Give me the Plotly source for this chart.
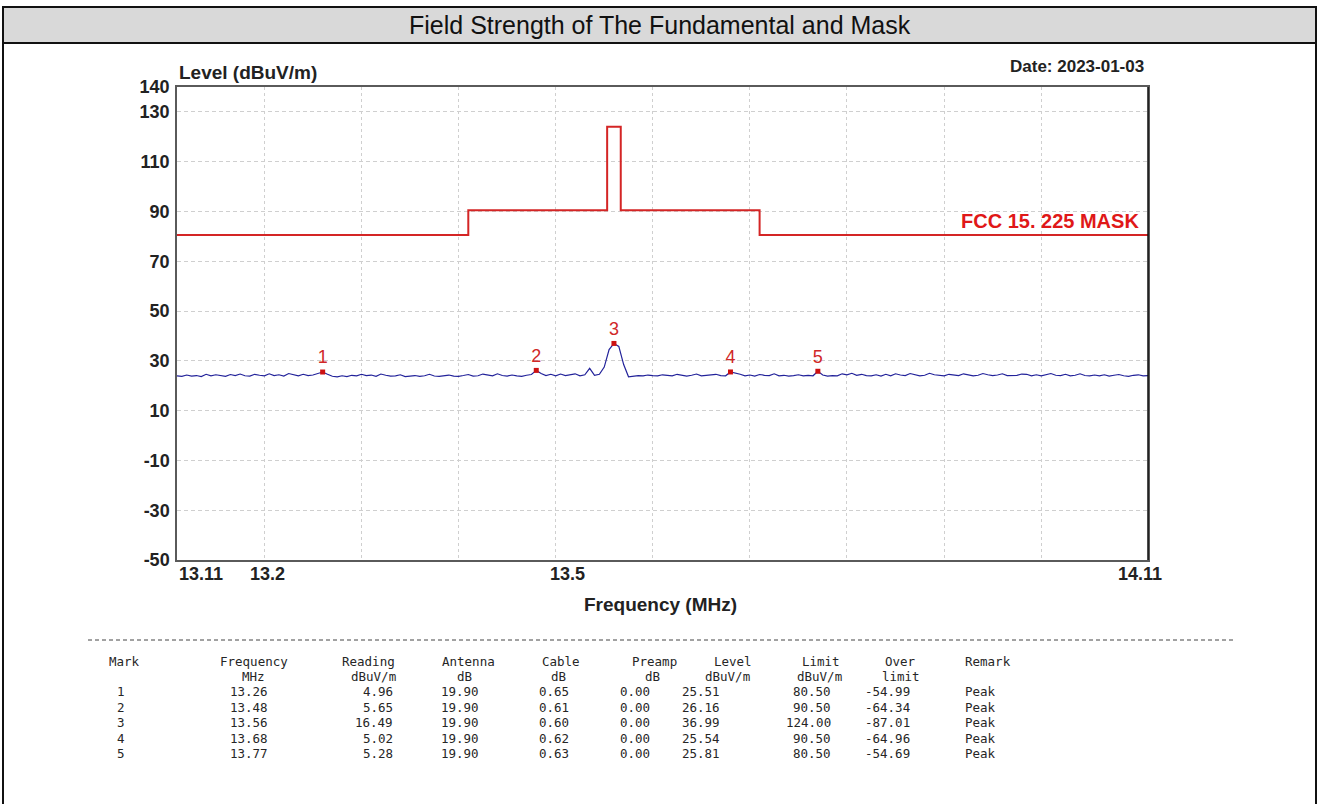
import plotly.graph_objects as go

# ---------------- data ----------------
sweep_start = 13.11
sweep_step = 0.005
trace_level = [
    24.0, 23.8, 24.3, 23.9, 24.1, 23.7, 24.6, 24.0, 24.4, 24.2,
    23.8, 24.5, 24.1, 24.7, 24.0, 23.9, 24.6, 24.2, 24.0, 24.8,
    24.1, 24.4, 23.9, 24.9, 24.3, 24.0, 24.6, 24.1, 24.3, 24.8,
    25.51, 24.6, 23.8, 23.6, 24.0, 23.7, 24.2, 24.0, 24.6, 24.1,
    24.3, 23.8, 24.7, 24.2, 23.9, 24.0, 24.4, 23.7, 23.9, 24.1,
    23.8, 24.0, 24.6, 23.9, 23.8, 24.0, 24.3, 23.9, 23.8, 24.1,
    24.5, 23.9, 24.0, 24.7, 24.2, 24.0, 24.8, 24.1, 23.9, 24.3,
    24.0, 23.8, 24.2, 24.5, 26.16, 24.9, 24.1, 24.6, 24.0, 24.7,
    24.1, 24.3, 24.8, 24.0, 24.4, 27.0, 24.2, 24.6, 27.5, 34.5,
    36.99, 35.8, 28.5, 23.6, 23.9, 24.1, 24.0, 24.3, 24.1, 24.0,
    24.4, 24.2, 24.0, 24.6, 24.1, 23.9, 24.2, 24.7, 24.0, 24.1,
    24.3, 24.6, 24.1, 24.0, 25.54, 25.2, 24.6, 24.0, 24.3, 23.9,
    24.5, 24.2, 24.1, 24.8, 24.0, 24.2, 23.9, 24.1, 24.4, 24.0,
    24.2, 24.0, 25.81, 24.3, 23.9, 24.1, 24.0, 24.8, 24.4, 25.0,
    24.2, 24.6, 24.1, 24.0, 24.4, 23.9, 24.6, 24.0, 24.8, 24.3,
    24.1, 24.9, 24.3, 24.0, 24.2, 25.0, 24.4, 24.1, 24.0, 24.6,
    24.2, 24.1, 24.8, 24.5, 24.0, 24.2, 24.9, 24.4, 24.1, 24.3,
    24.8, 24.1, 24.0, 24.2, 24.7, 24.6, 24.0, 24.4, 24.0, 24.3,
    24.9, 24.2, 24.1, 24.6, 24.0, 24.2, 24.8, 24.1, 24.0, 24.3,
    24.0, 24.4, 23.9, 24.2, 24.5, 24.0, 23.8, 24.2, 24.4, 24.0,
    24.1,
]
trace_freq = [round(sweep_start + sweep_step * i, 3) for i in range(len(trace_level))]

mask_freq = [13.11, 13.41, 13.41, 13.553, 13.553, 13.567, 13.567, 13.71, 13.71, 14.11]
mask_level = [80.5, 80.5, 90.5, 90.5, 124.0, 124.0, 90.5, 90.5, 80.5, 80.5]

mark_no = ["1", "2", "3", "4", "5"]
mark_freq = [13.26, 13.48, 13.56, 13.68, 13.77]
mark_reading = [4.96, 5.65, 16.49, 5.02, 5.28]
mark_antenna = [19.90, 19.90, 19.90, 19.90, 19.90]
mark_cable = [0.65, 0.61, 0.60, 0.62, 0.63]
mark_preamp = [0.00, 0.00, 0.00, 0.00, 0.00]
mark_level = [25.51, 26.16, 36.99, 25.54, 25.81]
mark_limit = [80.50, 90.50, 124.00, 90.50, 80.50]
mark_over = [-54.99, -64.34, -87.01, -64.96, -54.69]
mark_remark = ["Peak", "Peak", "Peak", "Peak", "Peak"]

y_ticks = [140, 130, 110, 90, 70, 50, 30, 10, -10, -30, -50]
x_tick_labels = [13.11, 13.2, 13.5, 14.11]
x_grid = [13.2, 13.3, 13.4, 13.5, 13.6, 13.7, 13.8, 13.9, 14.0]

# ---------------- layout geometry (pixels) ----------------
FW, FH = 1318, 804
L, R, T, B = 177, 1148, 87, 560
W, H = R - L, B - T


def px(x):
    return (x - L) / W


def py(y):
    return (B - y) / H


FONT = "Arial, Liberation Sans, sans-serif"
MONO = "Consolas, DejaVu Sans Mono, monospace"

fig = go.Figure()

fig.add_trace(go.Scatter(
    x=mask_freq, y=mask_level, mode="lines",
    line=dict(color="#d42525", width=2), hoverinfo="skip", showlegend=False))

fig.add_trace(go.Scatter(
    x=trace_freq, y=trace_level, mode="lines",
    line=dict(color="#22229a", width=1.2), showlegend=False))

fig.add_trace(go.Scatter(
    x=mark_freq, y=mark_level, mode="markers+text", text=mark_no,
    textposition="top center",
    textfont=dict(family=FONT, size=18, color="#d02828"),
    marker=dict(symbol="square", size=5, color="#cc1111"),
    showlegend=False))

annotations = []

# x tick labels
x_anchor = {13.11: ("left", 0), 13.2: ("center", 3), 13.5: ("center", 12), 14.11: ("center", -8)}
for v in x_tick_labels:
    a, s = x_anchor[v]
    annotations.append(dict(x=v, y=0, xref="x", yref="paper", text="<b>%s</b>" % v,
                            showarrow=False, xanchor=a, yanchor="top", xshift=s, yshift=-2,
                            font=dict(family=FONT, size=18, color="#222")))

annotations += [
    dict(x=px(660), y=py(25), xref="paper", yref="paper", text="Field Strength of The Fundamental and Mask",
         showarrow=False, xanchor="center", yanchor="middle",
         font=dict(family=FONT, size=25, color="#111")),
    dict(x=px(177), y=py(72), xref="paper", yref="paper", text="<b>Level (dBuV/m)</b>",
         showarrow=False, xanchor="left", yanchor="middle",
         font=dict(family=FONT, size=19, color="#222")),
    dict(x=px(1146), y=py(67), xref="paper", yref="paper", text="<b>Date: 2023-01-03</b>",
         showarrow=False, xanchor="right", yanchor="middle",
         font=dict(family=FONT, size=17, color="#222")),
    dict(x=px(660), y=py(604), xref="paper", yref="paper", text="<b>Frequency (MHz)</b>",
         showarrow=False, xanchor="center", yanchor="middle",
         font=dict(family=FONT, size=19, color="#222")),
    dict(x=px(1141), y=py(221), xref="paper", yref="paper", text="<b>FCC 15. 225 MASK</b>",
         showarrow=False, xanchor="right", yanchor="middle",
         font=dict(family=FONT, size=20, color="#e01818")),
]

# ---------------- table ----------------
TCOL = "#262626"
header = ["Mark", "Frequency", "Reading", "Antenna", "Cable", "Preamp", "Level", "Limit", "Over", "Remark"]
header_left = [107, 218, 340, 440, 540, 630, 712, 800, 883, 963]
units = ["MHz", "dBuV/m", "dB", "dB", "dB", "dBuV/m", "dBuV/m", "limit"]
units_left = [240, 349, 455, 549, 643, 703, 795, 880]
row_y = [691, 707, 722, 738, 753]


def cell(x, y, txt, anchor):
    return dict(x=px(x), y=py(y), xref="paper", yref="paper", text=txt, showarrow=False,
                xanchor=anchor, yanchor="middle", font=dict(family=MONO, size=12.5, color=TCOL))


for h, x in zip(header, header_left):
    annotations.append(cell(x, 661, h, "left"))
for u, x in zip(units, units_left):
    annotations.append(cell(x, 676, u, "left"))

col_right = [127, 270, 395, 481, 571, 652, 722, 833, 912]
for i in range(len(mark_no)):
    vals = [mark_no[i], "%.2f" % mark_freq[i], "%.2f" % mark_reading[i], "%.2f" % mark_antenna[i],
            "%.2f" % mark_cable[i], "%.2f" % mark_preamp[i], "%.2f" % mark_level[i],
            "%.2f" % mark_limit[i], "%.2f" % mark_over[i]]
    for v, x in zip(vals, col_right):
        annotations.append(cell(x, row_y[i], v, "right"))
    annotations.append(cell(963, row_y[i], mark_remark[i], "left"))

shapes = [
    # title band
    dict(type="rect", xref="paper", yref="paper", x0=px(3), x1=px(1316), y0=py(43), y1=py(7),
         fillcolor="#d9d9d9", line=dict(color="#111", width=2), layer="below"),
    # outer frame
    dict(type="rect", xref="paper", yref="paper", x0=px(3), x1=px(1316), y0=py(810), y1=py(7),
         fillcolor="rgba(0,0,0,0)", line=dict(color="#111", width=2)),
    # table separator
    dict(type="line", xref="paper", yref="paper", x0=px(88), x1=px(1234), y0=py(640), y1=py(640),
         line=dict(color="#444", width=1, dash="4px,3px")),
    # right plot border (black)
    dict(type="line", xref="paper", yref="paper", x0=1, x1=1, y0=0, y1=1,
         line=dict(color="#111", width=1.5)),
]

fig.update_layout(
    width=FW, height=FH, autosize=False,
    margin=dict(l=L, r=FW - R, t=T, b=FH - B, pad=0),
    paper_bgcolor="white", plot_bgcolor="white",
    showlegend=False,
    annotations=annotations,
    shapes=shapes,
    xaxis=dict(range=[13.11, 14.11], tickvals=x_grid, showticklabels=False, ticks="",
               showgrid=True, gridcolor="#cfcfcf", griddash="3px,3px", gridwidth=1,
               showline=True, mirror=True, linecolor="#5a5a5a", linewidth=1.5, zeroline=False),
    yaxis=dict(range=[-50, 140], tickvals=y_ticks, ticktext=["<b>%d</b>" % v for v in y_ticks],
               tickfont=dict(family=FONT, size=18, color="#222"), ticks="", ticklabelstandoff=2,
               showgrid=True, gridcolor="#cfcfcf", griddash="4px,3px", gridwidth=1,
               showline=True, mirror=True, linecolor="#5a5a5a", linewidth=1.5, zeroline=False),
)

fig.write_html("out.html", config={"displayModeBar": False},
               post_script="document.body.style.margin='0px';document.body.style.overflow='hidden';")
